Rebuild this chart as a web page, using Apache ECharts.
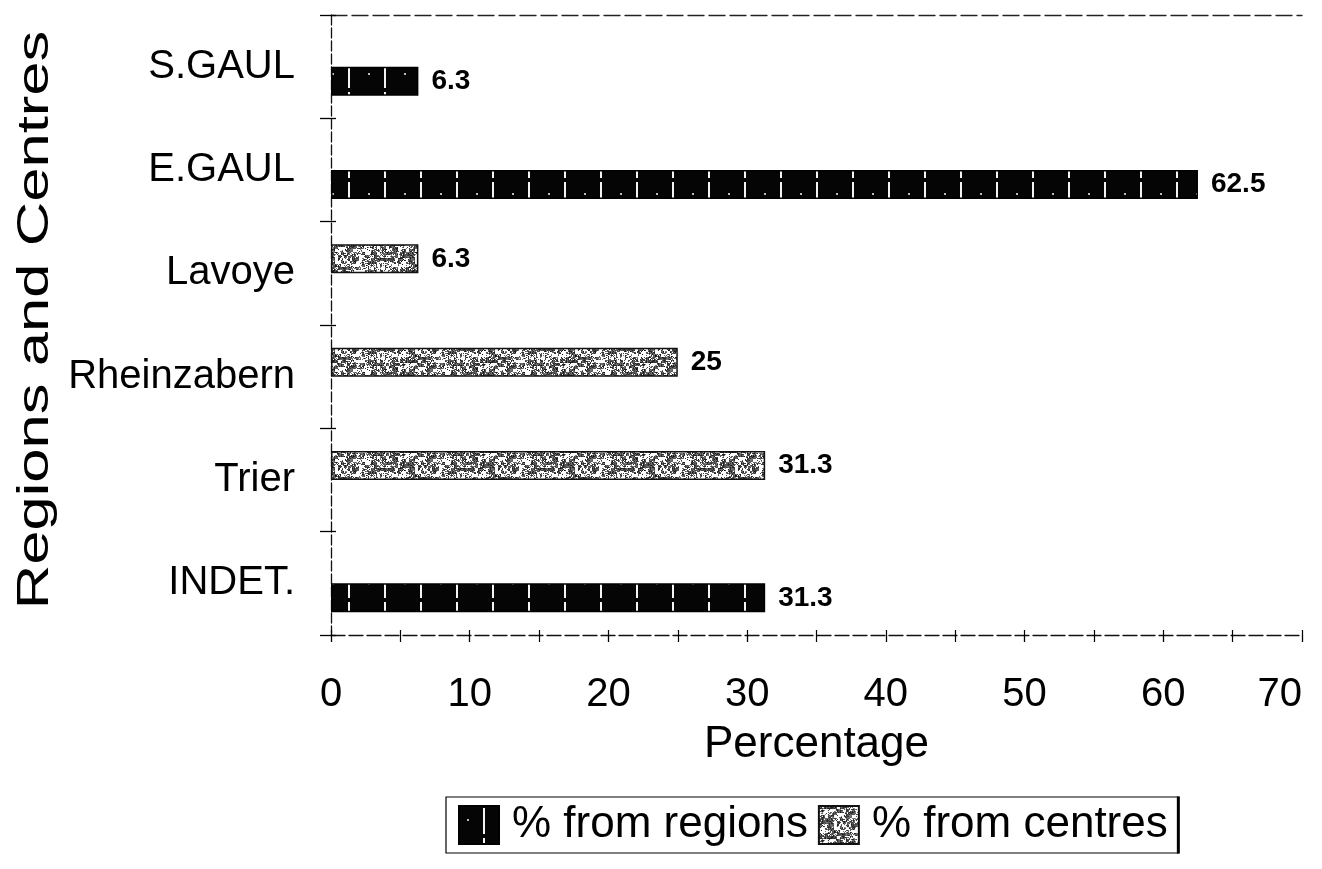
<!DOCTYPE html>
<html>
<head>
<meta charset="utf-8">
<script src="https://cdn.jsdelivr.net/npm/echarts@6/dist/echarts.min.js"></script>
<style>
html,body{margin:0;padding:0;background:#fff;}
#chart{width:1322px;height:869px;}
</style>
</head>
<body>
<div id="chart"></div>
<script>
// ---- data ----
const categories = ['S.GAUL', 'E.GAUL', 'Lavoye', 'Rheinzabern', 'Trier', 'INDET.'];
const fromRegions = [6.3, 62.5, '-', '-', '-', 31.3];
const fromCentres = ['-', '-', 6.3, 25, 31.3, '-'];
const xTicks = [0, 10, 20, 30, 40, 50, 60, 70];
const seriesNames = ['% from regions', '% from centres'];

// ---- textures (style only) ----
function regionsPattern() {
  const c = document.createElement('canvas');
  c.width = 36; c.height = 30;
  const g = c.getContext('2d');
  g.fillStyle = '#050505'; g.fillRect(0, 0, 36, 30);
  g.fillStyle = '#f4f4f4';
  g.fillRect(24, 2, 2, 26);
  g.fillStyle = '#bbbbbb';
  g.fillRect(8, 13, 2, 2);
  return c;
}
function hash(x, y) {
  let h = Math.imul(x, 374761393) + Math.imul(y, 668265263);
  h = Math.imul(h ^ (h >>> 13), 1274126177);
  h = h ^ (h >>> 16);
  return (h >>> 0) / 4294967296;
}
function centresPattern() {
  const c = document.createElement('canvas');
  c.width = 80; c.height = 30;
  const g = c.getContext('2d');
  g.fillStyle = '#ffffff'; g.fillRect(0, 0, 80, 30);
  for (let y = 0; y < 30; y++) {
    for (let x = 0; x < 80; x++) {
      const v = hash(Math.floor(x / 3), Math.floor(y / 3)) * 0.55 + hash(x, y) * 0.45;
      if (v < 0.52) {
        const s = Math.floor(20 + 110 * hash(y + 7, x + 3));
        g.fillStyle = 'rgb(' + s + ',' + s + ',' + s + ')';
        g.fillRect(x, y, 1, 1);
      }
    }
  }
  return c;
}
const regionsFill = { image: regionsPattern(), repeat: 'repeat' };
const centresFill = { image: centresPattern(), repeat: 'repeat' };

const FONT = "'Liberation Sans', Arial, sans-serif";
const chart = echarts.init(document.getElementById('chart'), null, { renderer: 'canvas' });

const option = {
  animation: false,
  backgroundColor: '#ffffff',
  textStyle: { fontFamily: FONT, color: '#000' },
  grid: { left: 331, right: 20, top: 15, bottom: 234, containLabel: false },
  legend: {
    data: seriesNames,
    left: 446, top: 797,
    padding: [6, 10, 6, 12],
    itemGap: 10,
    itemWidth: 40, itemHeight: 38,
    icon: 'rect',
    borderColor: '#000', borderWidth: 1.2, borderRadius: 0,
    textStyle: { fontSize: 44, color: '#000', fontFamily: FONT, padding: [0, 0, 0, 8] },
    selectedMode: false
  },
  xAxis: [
    {
      type: 'value', position: 'bottom',
      min: xTicks[0], max: xTicks[xTicks.length - 1], interval: 10,
      name: 'Percentage', nameLocation: 'middle', nameGap: 88,
      nameTextStyle: { fontSize: 44, color: '#000', fontFamily: FONT },
      axisLine: { show: true, lineStyle: { color: '#111', width: 1.3, type: [14, 4] } },
      axisTick: { show: true, length: 7, lineStyle: { color: '#000', width: 1.3 } },
      minorTick: { show: true, splitNumber: 2, length: 7, lineStyle: { color: '#000', width: 1.2 } },
      axisLabel: { fontSize: 40, color: '#000', margin: 40, fontFamily: FONT, alignMaxLabel: 'right' },
      splitLine: { show: false }
    },
    {
      type: 'value', position: 'bottom',
      min: xTicks[0], max: xTicks[xTicks.length - 1], interval: 10,
      axisLine: { show: false },
      axisTick: { show: true, inside: true, length: 5, lineStyle: { color: '#000', width: 1.2 } },
      minorTick: { show: true, splitNumber: 2, length: 5, lineStyle: { color: '#000', width: 1.2 } },
      axisLabel: { show: false },
      splitLine: { show: false }
    },
    {
      type: 'value', position: 'top',
      min: xTicks[0], max: xTicks[xTicks.length - 1],
      axisLine: { show: true, lineStyle: { color: '#222', width: 1.3, type: [16, 5] } },
      axisTick: { show: false }, axisLabel: { show: false }, splitLine: { show: false }
    }
  ],
  yAxis: [
    {
      type: 'category', data: categories, inverse: true,
      axisLine: { show: true, lineStyle: { color: '#111', width: 1.3, type: [10, 3] } },
      axisTick: { show: true, length: 11, lineStyle: { color: '#000', width: 1.3 } },
      axisLabel: { fontSize: 40, color: '#000', margin: 36, fontFamily: FONT },
      splitLine: { show: false }
    },
    {
      type: 'category', data: categories, inverse: true, position: 'left',
      axisLine: { show: false },
      axisTick: { show: true, inside: true, length: 5, lineStyle: { color: '#000', width: 1.3 } },
      axisLabel: { show: false },
      splitLine: { show: false }
    }
  ],
  series: [
    {
      name: seriesNames[1], type: 'bar', xAxisIndex: 0, yAxisIndex: 0,
      data: fromCentres, barWidth: 29, barGap: '0%',
      itemStyle: { color: centresFill, borderColor: '#111', borderWidth: 1.5 },
      label: { show: true, position: 'right', distance: 13, fontSize: 28, fontWeight: 'bold', color: '#000', fontFamily: FONT }
    },
    {
      name: seriesNames[0], type: 'bar', xAxisIndex: 0, yAxisIndex: 0,
      data: fromRegions, barWidth: 29, barGap: '0%',
      itemStyle: { color: regionsFill, borderColor: '#000', borderWidth: 1.5 },
      label: { show: true, position: 'right', distance: 13, fontSize: 28, fontWeight: 'bold', color: '#000', fontFamily: FONT }
    }
  ],
  graphic: [
    {
      type: 'text', x: 36, y: 320, rotation: Math.PI / 2, scaleX: 1.4,
      style: { text: 'Regions and Centres', fontSize: 44, fontFamily: FONT, fill: '#000', align: 'center', verticalAlign: 'middle' }
    }
  ]
};
chart.setOption(option);

// thick right edge of the legend box, placed from the legend's actual layout
const legendView = chart.getViewOfComponentModel(chart.getModel().getComponent('legend'));
if (legendView && legendView.group) {
  const r = legendView.group.getBoundingRect();
  const lx = legendView.group.x + r.x + r.width;
  const ly = legendView.group.y + r.y;
  chart.setOption({
    graphic: [
      option.graphic[0],
      { type: 'line', shape: { x1: lx, y1: ly, x2: lx, y2: ly + r.height }, style: { stroke: '#000', lineWidth: 3 } }
    ]
  });
}
</script>
</body>
</html>
